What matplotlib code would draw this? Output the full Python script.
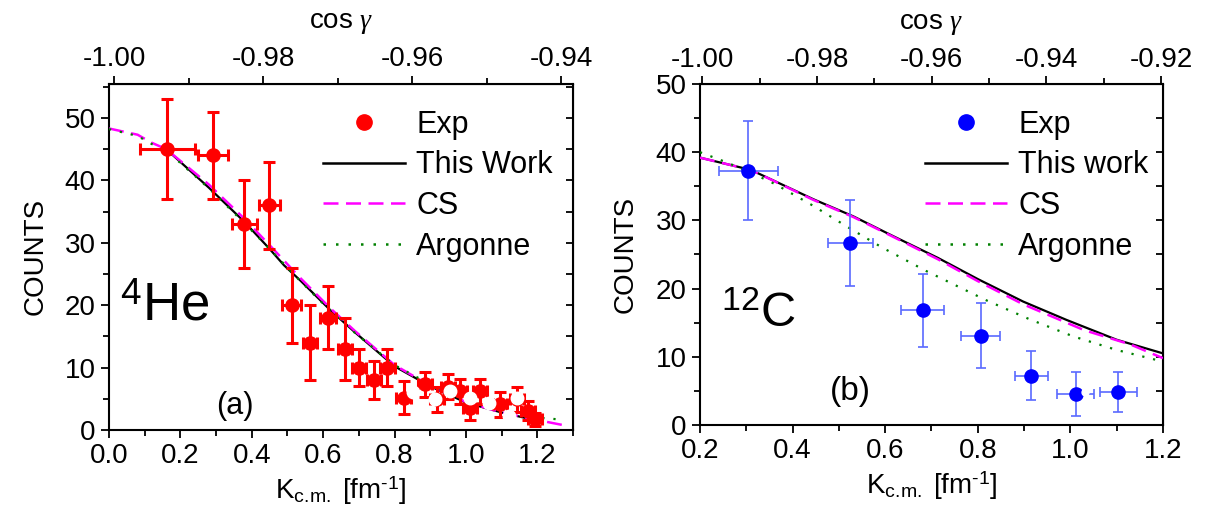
import matplotlib
matplotlib.use('Agg')
import matplotlib.pyplot as plt
from matplotlib.lines import Line2D
from matplotlib.ticker import MultipleLocator, FixedLocator, NullFormatter

plt.rcParams['font.family'] = ['Liberation Sans', 'DejaVu Sans']
plt.rcParams['mathtext.fontset'] = 'custom'
plt.rcParams['mathtext.rm'] = 'Liberation Sans'
plt.rcParams['mathtext.it'] = 'Liberation Serif:italic'
plt.rcParams['font.size'] = 20

# ---- 4He panel (a) ----
he_k = [0.163, 0.292, 0.379, 0.449, 0.512, 0.563, 0.614, 0.661, 0.701, 0.742, 0.780,
        0.825, 0.885, 0.918, 0.950, 0.983, 1.011, 1.039, 1.095, 1.142, 1.174, 1.193]
he_y = [45, 44, 33, 36, 20, 14, 18, 13, 10, 8, 10,
        5.2, 7.3, 4.9, 6.9, 6.2, 3.6, 6.2, 4.1, 4.9, 3.1, 1.7]
he_yerr = [8, 7, 7, 7, 6, 6, 5, 5, 3, 3, 3,
           2.7, 2, 2, 2, 2, 2, 2, 2, 2, 1.5, 1]
he_xerr = [0.077, 0.042, 0.035, 0.03, 0.027, 0.02, 0.022, 0.02, 0.02, 0.02, 0.02,
           0.02, 0.02, 0.02, 0.02, 0.02, 0.02, 0.02, 0.02, 0.02, 0.02, 0.02]
# white blobs sitting on top of the data cluster
he_white_k = [0.852, 0.913, 0.955, 1.011, 1.065, 1.121, 1.142]
he_white_y = [6.1, 5.0, 6.2, 5.2, 4.3, 2.3, 5.2]

he_tw_k = [0.16, 0.28, 0.38, 0.45, 0.49, 0.535, 0.62, 0.69, 0.80, 0.90, 1.00, 1.10, 1.20]
he_tw_y = [45.0, 38.8, 33.3, 29.0, 26.4, 24.0, 19.2, 15.6, 10.2, 7.0, 4.4, 2.8, 1.5]
he_cs_k = [0.0, 0.08, 0.12, 0.16, 0.28, 0.38, 0.45, 0.535, 0.62, 0.69, 0.80, 0.90, 1.00, 1.10, 1.20, 1.28]
he_cs_y = [48.3, 47.3, 46.0, 45.0, 39.3, 33.8, 29.6, 24.4, 19.5, 15.8, 10.4, 7.1, 4.5, 2.8, 1.6, 0.7]
he_ar_k = [0.0, 0.08, 0.12, 0.16, 0.28, 0.38, 0.45, 0.535, 0.62, 0.69, 0.80, 0.90, 1.00, 1.10, 1.20, 1.26]
he_ar_y = [48.2, 47.1, 45.8, 44.8, 38.7, 33.1, 29.0, 23.9, 19.1, 15.5, 10.4, 7.3, 4.8, 3.1, 2.0, 1.7]
he_cos_ticks = [-1.00, -0.98, -0.96, -0.94]

# ---- 12C panel (b) ----
c_k = [0.304, 0.525, 0.681, 0.806, 0.916, 1.012, 1.103]
c_y = [37.3, 26.7, 16.8, 13.1, 7.2, 4.5, 4.85]
c_yerr = [7.3, 6.3, 5.4, 4.8, 3.6, 3.2, 2.9]
c_xerr = [0.064, 0.048, 0.047, 0.042, 0.035, 0.04, 0.04]
c_white_k = [1.032]
c_white_y = [4.9]

c_tw_k = [0.2, 0.31, 0.445, 0.531, 0.617, 0.714, 0.8, 0.898, 0.992, 1.10, 1.2]
c_tw_y = [39.2, 37.4, 33.1, 30.6, 27.7, 24.5, 21.4, 18.1, 15.4, 12.5, 10.5]
c_cs_k = [0.2, 0.31, 0.445, 0.531, 0.617, 0.714, 0.8, 0.898, 1.03, 1.13, 1.2]
c_cs_y = [39.2, 37.4, 33.0, 30.5, 27.6, 24.3, 21.1, 17.7, 13.9, 11.8, 9.8]
c_ar_k = [0.2, 0.254, 0.31, 0.363, 0.443, 0.522, 0.594, 0.688, 0.818, 0.912, 1.006, 1.1, 1.2]
c_ar_y = [40.0, 38.6, 37.0, 35.3, 32.2, 28.9, 26.0, 22.6, 18.3, 15.5, 13.0, 11.0, 9.3]
c_cos_ticks = [-1.00, -0.98, -0.96, -0.94, -0.92]

DASH = (0, (6, 3))
DOT = (0, (1, 4))


def style_axes(ax):
    for s in ax.spines.values():
        s.set_linewidth(1.5)
    ax.tick_params(axis='both', which='major', labelsize=20, width=1.3, length=6, direction='out')
    ax.tick_params(axis='both', which='minor', width=1.3, length=4, direction='out')
    ax.yaxis.set_minor_locator(MultipleLocator(5))
    ax.xaxis.set_minor_locator(MultipleLocator(0.1))
    ax.xaxis.set_major_locator(MultipleLocator(0.2))
    ax.yaxis.set_major_locator(MultipleLocator(10))
    ax.xaxis.set_major_formatter(lambda v, p: f'{v:.1f}')
    ax.set_ylabel('COUNTS', fontsize=20, labelpad=12)
    ax.set_xlabel('K$_{\\rm c.\\!m.}$ [fm$^{\\rm \u2010 1}$]', fontsize=20, labelpad=4)
    # inward ticks on the right spine
    rax = ax.secondary_yaxis('right')
    rax.yaxis.set_major_locator(MultipleLocator(10))
    rax.yaxis.set_minor_locator(MultipleLocator(5))
    rax.yaxis.set_major_formatter(NullFormatter())
    rax.tick_params(which='both', direction='in', width=1.3, length=5)


def add_cos_axis(ax, k0, slope, ticks):
    sec = ax.secondary_xaxis('top', functions=(lambda k: -1 + slope * (k - k0),
                                               lambda c: (c + 1) / slope + k0))
    sec.xaxis.set_major_locator(FixedLocator(ticks))
    sec.xaxis.set_minor_locator(MultipleLocator(0.01))
    sec.xaxis.set_major_formatter(lambda v, p: f'{v:.2f}')
    sec.tick_params(which='major', labelsize=20, width=1.3, length=6, direction='out', pad=2)
    sec.tick_params(which='minor', width=1.3, length=4, direction='out')
    sec.set_xlabel(r'cos $\gamma$', fontsize=20, labelpad=13)
    return sec


def legend_handles(color):
    return [Line2D([], [], ls='none', marker='o', color=color, ms=11),
            Line2D([], [], color='black', lw=1.8),
            Line2D([], [], color='magenta', lw=1.8, ls=DASH),
            Line2D([], [], color='green', lw=1.8, ls=DOT)]


fig = plt.figure(figsize=(12.1, 5.23), dpi=100)

# panel (a)
ax1 = fig.add_axes([0.0901, 0.1778, 0.3835, 0.6625])
ax1.plot(he_tw_k, he_tw_y, color='black', lw=1.6, zorder=3)
ax1.plot(he_cs_k, he_cs_y, color='magenta', lw=1.8, ls=DASH, zorder=3)
ax1.plot(he_ar_k, he_ar_y, color='green', lw=1.6, ls=DOT, zorder=3)
ax1.errorbar(he_k, he_y, yerr=he_yerr, xerr=he_xerr, fmt='o', color='red', ms=9.5,
             elinewidth=2.2, capsize=4.3, capthick=2.2, zorder=4)
ax1.plot(he_white_k, he_white_y, 'o', color='white', ms=9, zorder=5)
ax1.set_xlim(0, 1.3)
ax1.set_ylim(0, 55.5)
style_axes(ax1)
add_cos_axis(ax1, 0.014, 0.0479, he_cos_ticks)
ax1.text(0.03, 17.5, r'$^4$He', fontsize=38)
ax1.text(0.30, 2.6, '(a)', fontsize=22)
ax1.legend(legend_handles('red'), ['Exp', 'This Work', 'CS', 'Argonne'], loc='upper left',
           bbox_to_anchor=(0.461, 0.925), borderaxespad=0, frameon=False, fontsize=22,
           handlelength=2.7, handletextpad=0.35, labelspacing=0.35, borderpad=0)

# panel (b)
ax2 = fig.add_axes([0.5785, 0.1874, 0.3826, 0.652])
ax2.plot(c_tw_k, c_tw_y, color='black', lw=1.6, zorder=3)
ax2.plot(c_cs_k, c_cs_y, color='magenta', lw=1.8, ls=DASH, zorder=3)
ax2.plot(c_ar_k, c_ar_y, color='green', lw=1.6, ls=DOT, zorder=3)
ax2.errorbar(c_k, c_y, yerr=c_yerr, xerr=c_xerr, fmt='o', color='blue', ms=9.5,
             ecolor='#5a6aff', elinewidth=1.2, capsize=3.5, capthick=1.2, zorder=4)
ax2.plot(c_white_k, c_white_y, 'o', color='white', ms=5, zorder=5)
ax2.set_xlim(0.2, 1.2)
ax2.set_ylim(0, 50)
style_axes(ax2)
add_cos_axis(ax2, 0.205, 0.0807, c_cos_ticks)
ax2.text(0.245, 14.3, r'$^{12}$C', fontsize=35)
ax2.text(0.48, 3.7, '(b)', fontsize=24)
ax2.legend(legend_handles('blue'), ['Exp', 'This work', 'CS', 'Argonne'], loc='upper left',
           bbox_to_anchor=(0.486, 0.925), borderaxespad=0, frameon=False, fontsize=22,
           handlelength=2.7, handletextpad=0.35, labelspacing=0.35, borderpad=0)

fig.savefig('out.png', dpi=100)
